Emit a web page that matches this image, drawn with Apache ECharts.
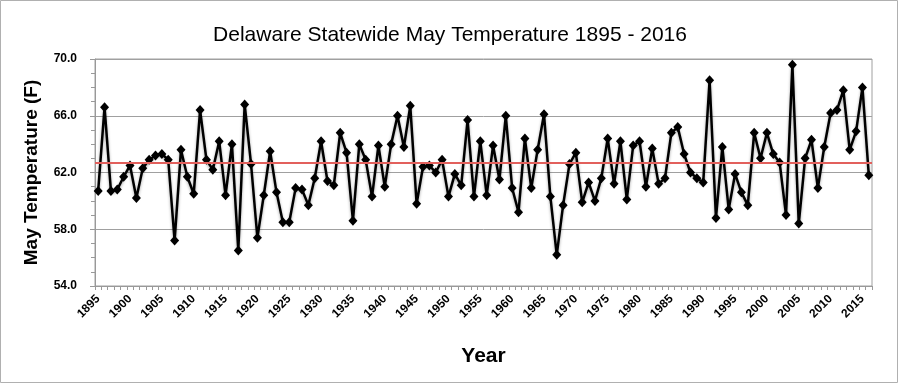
<!DOCTYPE html>
<html>
<head>
<meta charset="utf-8">
<script src="https://cdn.jsdelivr.net/npm/echarts@6/dist/echarts.min.js"></script>
<style>
html,body{margin:0;padding:0;background:#fff;}
#chart{width:900px;height:385px;}
</style>
</head>
<body>
<div id="chart"></div>
<script>
// Years (categories)
var years = [];
for (var y = 1895; y <= 2016; y++) years.push(String(y));

// May statewide mean temperature (F)
var mayTemp = [
  60.7, 66.6, 60.7, 60.8, 61.7, 62.5, 60.2, 62.3, 62.9, 63.2,
  63.3, 62.9, 57.2, 63.6, 61.7, 60.5, 66.4, 62.9, 62.2, 64.2,
  60.4, 64.0, 56.5, 66.8, 62.6, 57.4, 60.4, 63.5, 60.6, 58.5,
  58.5, 60.9, 60.8, 59.7, 61.6, 64.2, 61.4, 61.1, 64.8, 63.4,
  58.6, 64.0, 62.9, 60.3, 63.9, 61.0, 64.0, 66.0, 63.8, 66.7,
  59.8, 62.4, 62.5, 62.0, 62.9, 60.3, 61.9, 61.1, 65.7, 60.3,
  64.2, 60.4, 63.9, 61.5, 66.0, 60.9, 59.2, 64.4, 60.9, 63.6,
  66.1, 60.3, 56.2, 59.7, 62.6, 63.4, 59.9, 61.3, 60.0, 61.6,
  64.4, 61.2, 64.2, 60.1, 63.9, 64.2, 61.0, 63.7, 61.2, 61.6,
  64.8, 65.2, 63.3, 62.0, 61.6, 61.3, 68.5, 58.8, 63.8, 59.4,
  61.9, 60.6, 59.7, 64.8, 63.0, 64.8, 63.3, 62.7, 59.0, 69.6,
  58.4, 63.0, 64.3, 60.9, 63.8, 66.2, 66.4, 67.8, 63.6, 64.9,
  68.0, 61.8
];

// Long-term mean (red reference line)
var meanTemp = 62.7;

// Y axis ticks
var yMin = 54, yMax = 70, yStep = 4;

var font = '"Liberation Sans", "DejaVu Sans", sans-serif';
var chart = echarts.init(document.getElementById('chart'), null, {renderer: 'canvas'});
chart.setOption({
  animation: false,
  backgroundColor: '#fff',
  title: {
    text: 'Delaware Statewide May Temperature 1895 - 2016',
    left: 'center',
    top: 20,
    textStyle: {fontFamily: font, fontSize: 21, fontWeight: 'normal', color: '#000'}
  },
  graphic: [{
    type: 'rect',
    shape: {x: 0.5, y: 0.5, width: 897, height: 382},
    style: {fill: 'none', stroke: '#b0b0b0', lineWidth: 1},
    silent: true
  }],
  grid: {
    left: 95, right: 28, top: 59, bottom: 99,
    show: true, borderColor: '#a0a0a0', borderWidth: 1, backgroundColor: 'transparent'
  },
  xAxis: {
    type: 'category',
    data: years,
    boundaryGap: true,
    name: 'Year',
    nameLocation: 'middle',
    nameGap: 60,
    nameTextStyle: {fontFamily: font, fontSize: 21, fontWeight: 'bold', color: '#000'},
    axisLine: {lineStyle: {color: '#999', width: 1}},
    axisTick: {show: true, interval: 0, length: 4, lineStyle: {color: '#999'}},
    axisLabel: {
      interval: 4, rotate: 45, margin: 11,
      fontFamily: font, fontSize: 12, fontWeight: 'bold', color: '#000'
    },
    splitLine: {show: false}
  },
  yAxis: {
    type: 'value',
    min: yMin, max: yMax, interval: yStep,
    name: 'May Temperature (F)',
    nameLocation: 'middle',
    nameGap: 54,
    nameTextStyle: {fontFamily: font, fontSize: 19, fontWeight: 'bold', color: '#000'},
    axisLine: {show: true, lineStyle: {color: '#999', width: 1}},
    axisTick: {show: true, length: 5, lineStyle: {color: '#999'}},
    minorTick: {show: true, splitNumber: 4, length: 4, lineStyle: {color: '#999'}},
    axisLabel: {
      margin: 18,
      formatter: function (v) { return v.toFixed(1); },
      fontFamily: font, fontSize: 12, fontWeight: 'bold', color: '#000'
    },
    splitLine: {show: true, lineStyle: {color: '#a0a0a0', width: 1}}
  },
  series: [{
    name: 'May Temperature',
    type: 'line',
    data: mayTemp,
    symbol: 'diamond',
    symbolSize: [9, 10],
    showAllSymbol: true,
    itemStyle: {color: '#000'},
    lineStyle: {color: '#000', width: 2.5, shadowColor: 'rgba(0,0,0,0.35)', shadowBlur: 3, shadowOffsetY: 1.5},
    markLine: {
      silent: true,
      symbol: 'none',
      label: {show: false},
      lineStyle: {color: '#e2605c', width: 2, type: 'solid'},
      data: [{yAxis: meanTemp}]
    }
  }]
});
</script>
</body>
</html>
